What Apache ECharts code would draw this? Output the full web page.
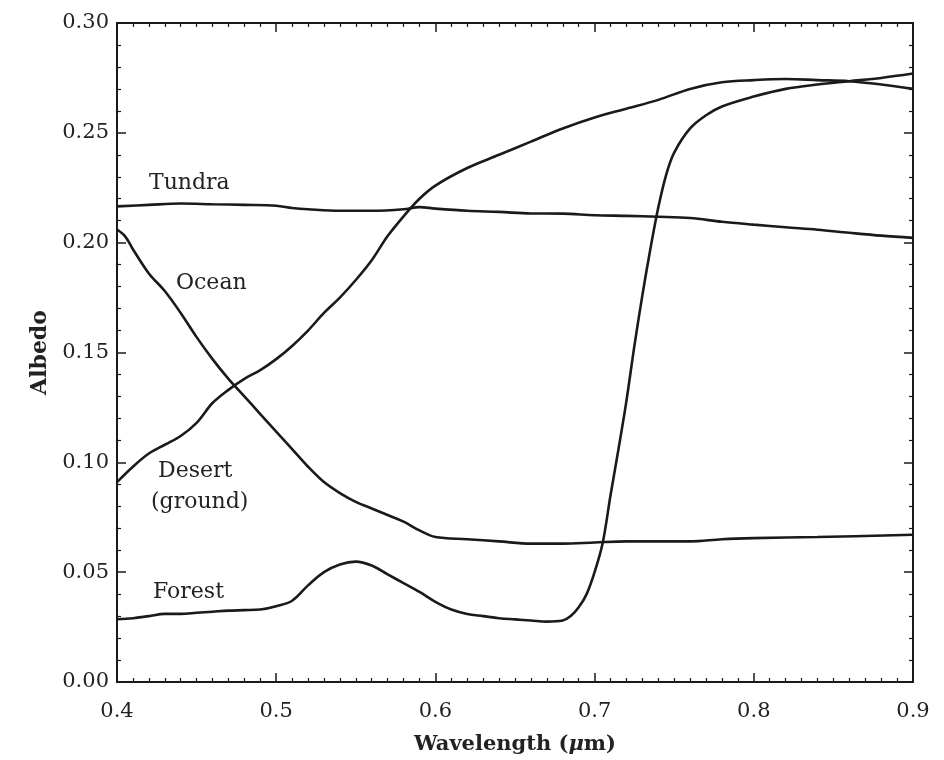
<!DOCTYPE html>
<html>
<head>
<meta charset="utf-8">
<script src="https://cdn.jsdelivr.net/npm/echarts@6/dist/echarts.min.js"></script>
<style>
  html, body { margin: 0; padding: 0; background: #fff; }
  #chart { width: 944px; height: 760px; }
</style>
</head>
<body>
<div id="chart"></div>
<script>
// Spectral albedo of surface types versus wavelength (µm)
const tundraWl  = [0.40, 0.42, 0.44, 0.46, 0.48, 0.50, 0.51, 0.52, 0.54, 0.56, 0.58, 0.59, 0.60, 0.62, 0.64, 0.66, 0.68, 0.70, 0.72, 0.74, 0.76, 0.78, 0.80, 0.82, 0.84, 0.86, 0.88, 0.90];
const tundraAlb = [0.2165, 0.2172, 0.2178, 0.2175, 0.2172, 0.2168, 0.2158, 0.2152, 0.2145, 0.2145, 0.2152, 0.2162, 0.2155, 0.2145, 0.2140, 0.2133, 0.2132, 0.2125, 0.2122, 0.2118, 0.2112, 0.2095, 0.2082, 0.2070, 0.2059, 0.2045, 0.2032, 0.2022];

const oceanWl  = [0.40, 0.405, 0.41, 0.42, 0.43, 0.44, 0.45, 0.46, 0.47, 0.48, 0.49, 0.50, 0.51, 0.52, 0.53, 0.54, 0.55, 0.56, 0.57, 0.58, 0.59, 0.60, 0.62, 0.64, 0.66, 0.68, 0.70, 0.72, 0.74, 0.76, 0.78, 0.80, 0.84, 0.90];
const oceanAlb = [0.206, 0.203, 0.197, 0.186, 0.178, 0.168, 0.157, 0.147, 0.138, 0.130, 0.122, 0.114, 0.106, 0.098, 0.091, 0.086, 0.082, 0.079, 0.076, 0.073, 0.069, 0.066, 0.065, 0.064, 0.063, 0.063, 0.0635, 0.064, 0.064, 0.064, 0.065, 0.0655, 0.066, 0.067];

const desertWl  = [0.40, 0.41, 0.42, 0.43, 0.44, 0.45, 0.46, 0.47, 0.48, 0.49, 0.50, 0.51, 0.52, 0.53, 0.54, 0.55, 0.56, 0.57, 0.58, 0.59, 0.60, 0.62, 0.64, 0.66, 0.68, 0.70, 0.72, 0.74, 0.76, 0.78, 0.80, 0.82, 0.84, 0.86, 0.88, 0.90];
const desertAlb = [0.091, 0.098, 0.104, 0.108, 0.112, 0.118, 0.127, 0.133, 0.138, 0.142, 0.147, 0.153, 0.160, 0.168, 0.175, 0.183, 0.192, 0.203, 0.212, 0.220, 0.226, 0.234, 0.240, 0.246, 0.252, 0.257, 0.261, 0.265, 0.270, 0.273, 0.274, 0.2745, 0.274, 0.2735, 0.272, 0.270];

const forestWl  = [0.40, 0.41, 0.42, 0.43, 0.44, 0.45, 0.46, 0.47, 0.48, 0.49, 0.50, 0.51, 0.52, 0.53, 0.54, 0.55, 0.56, 0.57, 0.58, 0.59, 0.60, 0.61, 0.62, 0.63, 0.64, 0.65, 0.66, 0.67, 0.68, 0.685, 0.69, 0.695, 0.70, 0.705, 0.71, 0.715, 0.72, 0.725, 0.73, 0.735, 0.74, 0.745, 0.75, 0.76, 0.77, 0.78, 0.80, 0.82, 0.84, 0.86, 0.88, 0.90];
const forestAlb = [0.0286, 0.029, 0.030, 0.031, 0.031, 0.0315, 0.032, 0.0325, 0.0327, 0.033, 0.0345, 0.037, 0.044, 0.050, 0.0535, 0.0548, 0.053, 0.049, 0.045, 0.041, 0.0365, 0.033, 0.031, 0.030, 0.029, 0.0285, 0.028, 0.0275, 0.028, 0.030, 0.034, 0.040, 0.050, 0.063, 0.085, 0.106, 0.128, 0.153, 0.176, 0.197, 0.216, 0.231, 0.241, 0.252, 0.258, 0.262, 0.2665, 0.270, 0.272, 0.2735, 0.275, 0.277];

const xTicks = [0.4, 0.5, 0.6, 0.7, 0.8, 0.9];
const yTicks = [0.00, 0.05, 0.10, 0.15, 0.20, 0.25, 0.30];

const pairs = (xs, ys) => xs.map((x, i) => [x, ys[i]]);

const serif = 'DejaVu Serif';
const ink = '#1a1a1a';

function frameAxis(extra) {
  return Object.assign({
    type: 'value',
    axisLine: { show: true, onZero: false, lineStyle: { color: ink, width: 2 } },
    axisTick: { show: true, inside: true, length: 9, lineStyle: { color: ink, width: 1.5 } },
    splitLine: { show: false },
    minorSplitLine: { show: false }
  }, extra);
}

const lineSeries = (name, xs, ys) => ({
  name, type: 'line', xAxisIndex: 0, yAxisIndex: 0,
  data: pairs(xs, ys),
  showSymbol: false, symbol: 'none',
  smooth: 0.35,
  lineStyle: { color: ink, width: 2.6 },
  silent: true
});

const chart = echarts.init(document.getElementById('chart'), null, { renderer: 'canvas' });

const labelText = (text, x, y) => ({
  type: 'text', left: x, top: y, silent: true,
  style: { text, font: '22px "' + serif + '"', fill: '#222' }
});

const xMinor = { show: true, splitNumber: 10, length: 4, lineStyle: { color: ink, width: 1.2 } };
const yMinor = { show: true, splitNumber: 5, length: 4, lineStyle: { color: ink, width: 1.2 } };

chart.setOption({
  animation: false,
  backgroundColor: '#fff',
  grid: { left: 117, right: 31, top: 23, bottom: 77, containLabel: false },
  xAxis: [
    frameAxis({
      position: 'bottom', min: xTicks[0], max: xTicks[xTicks.length - 1], interval: 0.1,
      minorTick: xMinor,
      axisLabel: {
        show: true, margin: 19, color: '#222', fontFamily: serif, fontSize: 21,
        formatter: v => v.toFixed(1)
      },
      name: '{b|Wavelength (}{i|μ}{b|m)}',
      nameLocation: 'middle', nameGap: 52,
      nameTextStyle: {
        rich: {
          b: { fontFamily: serif, fontSize: 21, fontWeight: 'bold', color: '#222' },
          i: { fontFamily: serif, fontSize: 21, fontWeight: 'bold', fontStyle: 'italic', color: '#222' }
        }
      }
    }),
    frameAxis({
      position: 'top', min: xTicks[0], max: xTicks[xTicks.length - 1], interval: 0.1,
      minorTick: xMinor,
      axisLabel: { show: false }
    })
  ],
  yAxis: [
    frameAxis({
      position: 'left', min: yTicks[0], max: yTicks[yTicks.length - 1], interval: 0.05,
      minorTick: yMinor,
      axisLabel: {
        show: true, margin: 8, color: '#222', fontFamily: serif, fontSize: 21,
        formatter: v => v.toFixed(2)
      },
      name: 'Albedo', nameLocation: 'middle', nameGap: 66,
      nameTextStyle: { fontFamily: serif, fontSize: 22, fontWeight: 'bold', color: '#222' }
    }),
    frameAxis({
      position: 'right', min: yTicks[0], max: yTicks[yTicks.length - 1], interval: 0.05,
      minorTick: yMinor,
      axisLabel: { show: false }
    })
  ],
  series: [
    lineSeries('Tundra', tundraWl, tundraAlb),
    lineSeries('Ocean', oceanWl, oceanAlb),
    lineSeries('Desert (ground)', desertWl, desertAlb),
    lineSeries('Forest', forestWl, forestAlb)
  ],
  graphic: [
    labelText('Tundra', 149, 172),
    labelText('Ocean', 176, 272),
    labelText('Desert', 158, 460),
    labelText('(ground)', 151, 491),
    labelText('Forest', 153, 581)
  ]
});
</script>
</body>
</html>
